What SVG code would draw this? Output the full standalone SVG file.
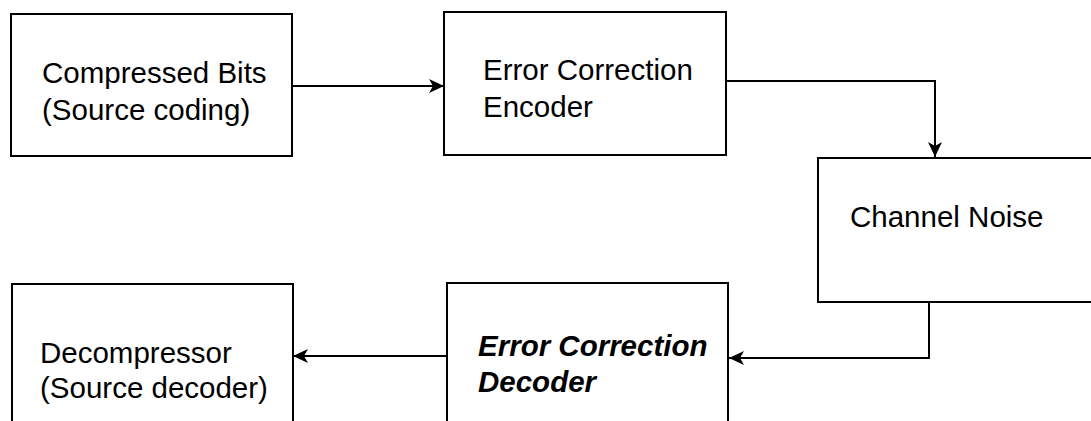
<svg xmlns="http://www.w3.org/2000/svg" width="1091" height="421" viewBox="0 0 1091 421">
  <style>
    .box { fill: #ffffff; stroke: #000000; stroke-width: 2; }
    .label { font-family: "Liberation Sans", Arial, Helvetica, sans-serif; font-size: 29.5px; fill: #000000; }
    .emph { font-weight: bold; font-style: italic; }
    .wire { fill: none; stroke: #000000; stroke-width: 2; }
  </style>
  <defs>
    <marker id="arrow" markerUnits="userSpaceOnUse" viewBox="-16 -8 17 16" markerWidth="17" markerHeight="16" refX="0" refY="0" orient="auto">
      <path d="M0,0 L-15,-7 L-11,0 L-15,7 Z" fill="#000000"/>
    </marker>
  </defs>

  <g id="compressed-bits">
    <rect class="box" x="11" y="14" width="281" height="142"/>
    <text class="label" x="42" y="83">Compressed Bits</text>
    <text class="label" x="42" y="120">(Source coding)</text>
  </g>

  <g id="ecc-encoder">
    <rect class="box" x="444" y="12" width="282" height="143"/>
    <text class="label" x="483" y="80">Error Correction</text>
    <text class="label" x="483" y="117">Encoder</text>
  </g>

  <g id="channel-noise">
    <rect class="box" x="818" y="158" width="290" height="144"/>
    <text class="label" x="850" y="227">Channel Noise</text>
  </g>

  <g id="ecc-decoder">
    <rect class="box" x="447" y="283" width="281" height="160"/>
    <text class="label emph" x="478" y="356">Error Correction</text>
    <text class="label emph" x="478" y="392">Decoder</text>
  </g>

  <g id="decompressor">
    <rect class="box" x="12" y="284" width="281" height="160"/>
    <text class="label" x="40" y="363">Decompressor</text>
    <text class="label" x="40" y="398">(Source decoder)</text>
  </g>

  <g id="connectors">
    <path class="wire" d="M292,86 H444" marker-end="url(#arrow)"/>
    <path class="wire" d="M726,81 H935 V157" marker-end="url(#arrow)"/>
    <path class="wire" d="M929,302 V358 H729" marker-end="url(#arrow)"/>
    <path class="wire" d="M447,356 H293" marker-end="url(#arrow)"/>
  </g>
</svg>
